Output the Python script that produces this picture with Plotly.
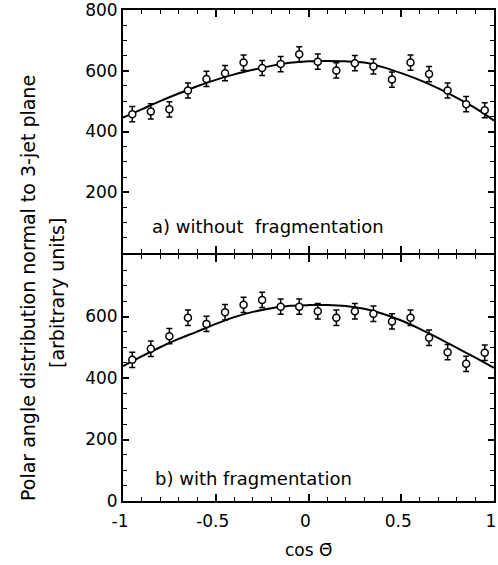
import plotly.graph_objects as go

# x positions of bins
x_pts = [-0.95, -0.85, -0.75, -0.65, -0.55, -0.45, -0.35, -0.25, -0.15, -0.05,
         0.05, 0.15, 0.25, 0.35, 0.45, 0.55, 0.65, 0.75, 0.85, 0.95]

# a) without fragmentation
a_vals = [457, 466, 473, 535, 573, 592, 627, 609, 622, 654,
          630, 601, 625, 614, 571, 627, 589, 535, 490, 470]
a_errs = [25] * 20

# b) with fragmentation
b_vals = [459, 495, 536, 596, 576, 614, 638, 654, 632, 632,
          617, 596, 617, 609, 584, 596, 531, 484, 446, 482]
b_errs = [25] * 20

# fitted curves
curve_x = [-1.0, -0.9, -0.8, -0.7, -0.6, -0.5, -0.4, -0.3, -0.2, -0.1, 0.0,
           0.1, 0.2, 0.3, 0.4, 0.5, 0.6, 0.7, 0.8, 0.9, 1.0]
a_curve = [446, 473, 500, 525, 549, 570, 588, 603, 616, 626, 631,
           632, 631, 627, 612, 592, 569, 542, 511, 477, 436]
b_curve = [439, 470, 500, 527, 551, 576, 598, 615, 627, 635, 637,
           637, 634, 625, 609, 587, 560, 530, 498, 466, 433]

top_ticks = [200, 400, 600, 800]
bot_ticks = [0, 200, 400, 600]
x_ticks = [-1, -0.5, 0, 0.5, 1]
x_ticklabels = ["-1", "-0.5", "0", "0.5", "1"]

FONT = "DejaVu Sans"
FS = 17
fig = go.Figure()

def add_panel(vals, errs, curve, xa, ya):
    fig.add_trace(go.Scatter(x=curve_x, y=curve, mode="lines",
                             line=dict(color="black", width=2, shape="spline", smoothing=0.8),
                             xaxis=xa, yaxis=ya, showlegend=False, hoverinfo="skip"))
    fig.add_trace(go.Scatter(x=x_pts, y=vals, mode="markers",
                             marker=dict(symbol="circle", size=7, color="white",
                                         line=dict(color="black", width=1.5)),
                             error_y=dict(type="data", array=errs, color="black",
                                          thickness=1.5, width=3),
                             xaxis=xa, yaxis=ya, showlegend=False))

add_panel(b_vals, b_errs, b_curve, "x", "y")
add_panel(a_vals, a_errs, a_curve, "x2", "y2")

common_x = dict(range=[-1, 1], showline=True, linewidth=2, linecolor="black",
                mirror="allticks", ticks="inside", ticklen=7, tickwidth=1.5,
                tickcolor="black", tickvals=x_ticks, showgrid=False, zeroline=False,
                ticklabeloverflow="allow", automargin=False,
                minor=dict(ticks="inside", ticklen=4, tickwidth=1.2, dtick=0.1,
                           tick0=0, tickcolor="black", showgrid=False))
common_y = dict(showline=True, linewidth=2, linecolor="black",
                mirror="allticks", ticks="inside", ticklen=6, tickwidth=1.5,
                tickcolor="black", showgrid=False, zeroline=False,
                ticklabeloverflow="allow", automargin=False,
                tickfont=dict(family=FONT, size=FS, color="black"),
                minor=dict(ticks="inside", ticklen=4, tickwidth=1.2, dtick=50,
                           tick0=0, tickcolor="black", showgrid=False))

PH = 491
s = 247 / PH
px = 1 / PH

fig.update_layout(
    width=498, height=565,
    margin=dict(l=123, r=4, t=10, b=64),
    paper_bgcolor="white", plot_bgcolor="white",
    font=dict(family=FONT, color="black"),
    xaxis=dict(**common_x, anchor="y", ticktext=x_ticklabels, ticklabelstandoff=4,
               ticklabelshift=-3,
               tickfont=dict(family=FONT, size=FS, color="black")),
    xaxis2=dict(**common_x, anchor="y2", matches="x", showticklabels=False),
    yaxis=dict(**common_y, domain=[0, s - px], range=[0, 800],
               tickvals=bot_ticks, anchor="x"),
    yaxis2=dict(**common_y, domain=[s + px, 1], range=[0, 800],
                tickvals=top_ticks, anchor="x2"),
)

fig.add_annotation(x=-0.855, y=87, xref="x2", yref="y2", text="a) without  fragmentation",
                   showarrow=False, xanchor="left", yanchor="middle",
                   font=dict(family=FONT, size=18, color="black"))
fig.add_annotation(x=-0.84, y=74, xref="x", yref="y", text="b) with fragmentation",
                   showarrow=False, xanchor="left", yanchor="middle",
                   font=dict(family=FONT, size=18, color="black"))

fig.add_annotation(x=(28 - 123) / 371, y=(501 - 288) / PH, xref="paper", yref="paper",
                   text="Polar angle distribution normal to 3-jet plane",
                   textangle=-90, showarrow=False, xanchor="center", yanchor="middle",
                   font=dict(family=FONT, size=19, color="black"))
fig.add_annotation(x=(57 - 123) / 371, y=(501 - 293) / PH, xref="paper", yref="paper",
                   text="[arbitrary units]",
                   textangle=-90, showarrow=False, xanchor="center", yanchor="middle",
                   font=dict(family=FONT, size=19, color="black"))
fig.add_annotation(x=0, y=(501 - 550) / PH, xref="x", yref="paper",
                   text="cos \u0398\u0304", showarrow=False, xanchor="center",
                   yanchor="middle", font=dict(family=FONT, size=FS, color="black"))

fig.write_html("out.html", config={"displayModeBar": False},
               post_script="document.body.style.margin='0';document.body.style.overflow='hidden';")
